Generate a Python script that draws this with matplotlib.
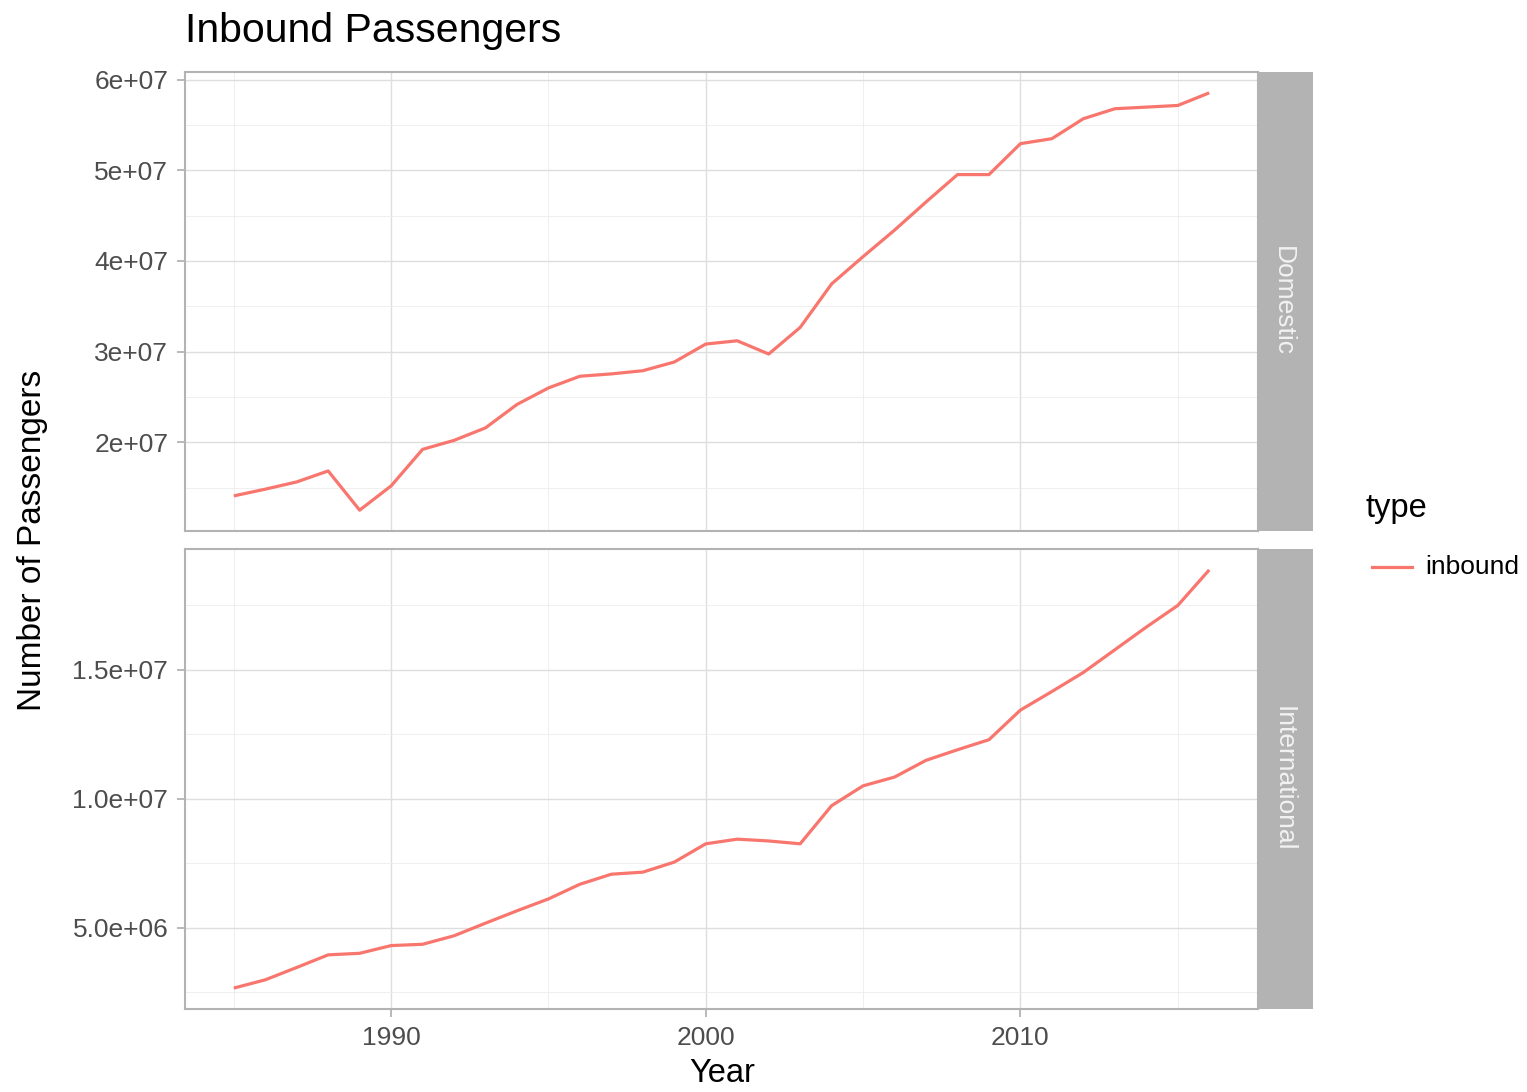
import numpy as np
import matplotlib
matplotlib.use("Agg")
import matplotlib.pyplot as plt
from matplotlib.ticker import FixedLocator

plt.rcParams['font.family'] = ['Liberation Sans', 'DejaVu Sans']

years = list(range(1985, 2017))

domestic = [14.1e6, 14.84e6, 15.64e6, 16.85e6, 12.53e6, 15.2e6, 19.23e6, 20.22e6,
            21.6e6, 24.18e6, 26.0e6, 27.29e6, 27.55e6, 27.9e6, 28.86e6, 30.84e6,
            31.2e6, 29.74e6, 32.67e6, 37.47e6, 40.48e6, 43.4e6, 46.5e6, 49.52e6,
            49.52e6, 52.93e6, 53.48e6, 55.68e6, 56.78e6, 56.96e6, 57.14e6, 58.53e6]

international = [2.65e6, 2.97e6, 3.45e6, 3.94e6, 4.0e6, 4.3e6, 4.35e6, 4.68e6,
                 5.17e6, 5.65e6, 6.11e6, 6.68e6, 7.07e6, 7.15e6, 7.54e6, 8.25e6,
                 8.43e6, 8.36e6, 8.25e6, 9.73e6, 10.5e6, 10.84e6, 11.49e6, 11.9e6,
                 12.29e6, 13.44e6, 14.16e6, 14.9e6, 15.78e6, 16.66e6, 17.5e6, 18.88e6]

panels = ["Domestic", "International"]
x_ticks = [1990, 2000, 2010]
x_minor = [1985, 1995, 2005, 2015]
dom_ticks = [2e7, 3e7, 4e7, 5e7, 6e7]
dom_labels = ["2e+07", "3e+07", "4e+07", "5e+07", "6e+07"]
dom_minor = [1.5e7, 2.5e7, 3.5e7, 4.5e7, 5.5e7]
int_ticks = [5e6, 1e7, 1.5e7]
int_labels = ["5.0e+06", "1.0e+07", "1.5e+07"]
int_minor = [2.5e6, 7.5e6, 1.25e7, 1.75e7]

W, H = 1527, 1092
fig = plt.figure(figsize=(W / 100, H / 100), dpi=100)

line_col = "#F8766D"
border = "#B3B3B3"
tick_col = "#4D4D4D"

def px(l, t, r, b):
    return [l / W, 1 - b / H, (r - l) / W, (b - t) / H]

def style(ax, data, yt, ylab, ymin_, show_x):
    ax.plot(years, data, color=line_col, lw=2.3, solid_capstyle='butt', zorder=3)
    lo, hi = min(data), max(data)
    pad = (hi - lo) * 0.05
    ax.set_ylim(lo - pad, hi + pad)
    ax.set_xlim(1985 - 31 * 0.05, 2016 + 31 * 0.05)
    ax.set_yticks(yt)
    ax.set_yticklabels(ylab)
    ax.yaxis.set_minor_locator(FixedLocator(ymin_))
    ax.set_xticks(x_ticks)
    ax.xaxis.set_minor_locator(FixedLocator(x_minor))
    ax.grid(which='major', color='#DEDEDE', lw=1.0)
    ax.grid(which='minor', color='#EDEDED', lw=0.6)
    ax.set_axisbelow(True)
    for s in ax.spines.values():
        s.set_color(border)
        s.set_linewidth(1.5)
    ax.tick_params(axis='both', which='major', color=border, length=6, width=1.3,
                   labelsize=19, labelcolor=tick_col, pad=6)
    ax.tick_params(axis='both', which='minor', length=0)
    if not show_x:
        ax.tick_params(axis='x', which='major', length=0, labelbottom=False)

ax1 = fig.add_axes(px(185, 72, 1258, 531))
style(ax1, domestic, dom_ticks, dom_labels, dom_minor, False)
ax2 = fig.add_axes(px(185, 549, 1258, 1009))
style(ax2, international, int_ticks, int_labels, int_minor, True)

# facet strips
for (t, b), name in zip([(72, 531), (549, 1009)], panels):
    sax = fig.add_axes(px(1259, t, 1313, b))
    sax.set_facecolor("#B3B3B3")
    sax.set_xticks([])
    sax.set_yticks([])
    for s in sax.spines.values():
        s.set_visible(False)
    sax.text(0.45, 0.5, name, rotation=-90, ha='center', va='center',
             rotation_mode='anchor', color='#F2F2F2', fontsize=19,
             transform=sax.transAxes)

fig.text(185 / W, 1 - 31 / H, "Inbound Passengers", fontsize=29.5, ha='left', va='center')
fig.text(722 / W, 1 - 1074 / H, "Year", fontsize=23.5, ha='center', va='center')
fig.text(33 / W, 1 - 540 / H, "Number of Passengers", fontsize=24, rotation=90,
         ha='center', va='center')

# legend
fig.text(1366 / W, 1 - 508 / H, "type", fontsize=23.5, ha='left', va='center')
fig.add_artist(plt.Line2D([1372 / W, 1412 / W], [1 - 567 / H, 1 - 567 / H],
                          color=line_col, lw=2.3))
fig.text(1425 / W, 1 - 567 / H, "inbound", fontsize=19, ha='left', va='center')

fig.savefig("out.png", dpi=100)
